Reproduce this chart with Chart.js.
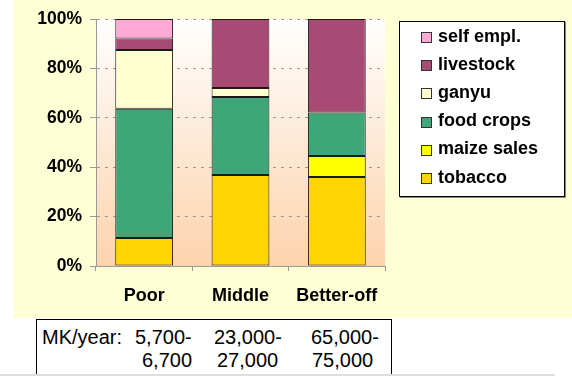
<!DOCTYPE html>
<html lang="en">
<head>
  <meta charset="UTF-8" />
  <title>Income sources by wealth group</title>
  <script src="https://cdn.jsdelivr.net/npm/chart.js"></script>
  <style>
    * { box-sizing: border-box; margin: 0; padding: 0; }
    body {
      width: 572px;
      height: 376px;
      background: #fff;
      position: relative;
      overflow: hidden;
      font-family: 'Liberation Sans', Arial, sans-serif;
    }
    .panel {
      position: absolute;
      left: 13px;
      top: 0;
      width: 559px;
      height: 318px;
      background: #FFFFD6;
    }
    #chart { position: absolute; left: 0; top: 0; }
    .legend {
      position: absolute;
      left: 386px;
      top: 21px;
      width: 166px;
      height: 176px;
      background: #fff;
      border: 1px solid #000;
      box-shadow: 1px 1px 0 #888;
    }
    .legend-item {
      position: absolute;
      left: 21px;
      height: 20px;
      display: flex;
      align-items: center;
      font-weight: bold;
      font-size: 18px;
      color: #000;
    }
    .legend-item span.box {
      width: 11px;
      height: 11px;
      border: 1px solid #333;
      margin-right: 6px;
      margin-top: 3px;
    }
    .income {
      position: absolute;
      left: 36px;
      top: 319px;
      width: 356px;
      height: 70px;
      border: 1.5px solid #000;
      background: #fff;
    }
    .income div {
      position: absolute;
      font-size: 20px;
      line-height: 23px;
      color: #000;
      white-space: nowrap;
    }
    .edge {
      position: absolute;
      left: 0;
      top: 374px;
      width: 555px;
      height: 2px;
      background: #dcdcdc;
    }
  </style>
</head>
<body>
  <div class="panel">
    <canvas id="chart" width="559" height="318"></canvas>
    <div id="legend" class="legend"></div>
  </div>
  <div id="income" class="income"></div>
  <div class="edge"></div>

  <script>
// Share of income by source (%)
const categories = ['Poor', 'Middle', 'Better-off'];
const tobacco    = [11.3, 36.8, 36.0];
const maizeSales = [0, 0, 8.5];
const foodCrops  = [52.4, 31.6, 17.6];
const ganyu      = [23.7, 3.7, 0];
const livestock  = [4.7, 27.9, 37.9];
const selfEmpl   = [7.9, 0, 0];

const yTicks = [0, 20, 40, 60, 80, 100];

// income range text under the chart
const incomeLabel = 'MK/year:';
const incomeLow  = ['5,700-', '23,000-', '65,000-'];
const incomeHigh = ['6,700', '27,000', '75,000'];

const series = [
  { label: 'tobacco',     data: tobacco,    color: '#FFD400' },
  { label: 'maize sales', data: maizeSales, color: '#FFFF00' },
  { label: 'food crops',  data: foodCrops,  color: '#3FA67A' },
  { label: 'ganyu',       data: ganyu,      color: '#FFFFD0' },
  { label: 'livestock',   data: livestock,  color: '#A84A74' },
  { label: 'self empl.',  data: selfEmpl,   color: '#FFAAD4' }
];

// gradient behind the plot area
const plotBackground = {
  id: 'plotBackground',
  beforeDraw(chart) {
    const { ctx, chartArea: a } = chart;
    const g = ctx.createLinearGradient(0, a.top, 0, a.bottom);
    g.addColorStop(0, '#FFFFFF');
    g.addColorStop(1, '#FDD3AC');
    ctx.save();
    ctx.fillStyle = g;
    ctx.fillRect(a.left, a.top, a.right - a.left, a.bottom - a.top);
    ctx.restore();
  }
};

const chart = new Chart(document.getElementById('chart'), {
  type: 'bar',
  data: {
    labels: categories,
    datasets: series.map(s => ({
      label: s.label,
      data: s.data,
      backgroundColor: s.color,
      borderColor: '#1a1a1a',
      borderWidth: 1,
      borderSkipped: false,
      barPercentage: 0.6,
      categoryPercentage: 1
    }))
  },
  options: {
    responsive: false,
    animation: false,
    layout: { padding: { top: 19, right: 187, left: 0, bottom: 0 } },
    plugins: {
      legend: { display: false },
      tooltip: { enabled: false }
    },
    scales: {
      x: {
        stacked: true,
        grid: {
          offset: true,
          drawOnChartArea: false,
          drawTicks: true,
          tickLength: 5,
          color: '#999'
        },
        border: { color: '#999' },
        ticks: {
          color: '#000',
          padding: 14,
          font: { family: "'Liberation Sans', Arial", size: 18, weight: 'bold' }
        },
        afterFit(scale) { scale.height = 52; }
      },
      y: {
        stacked: true,
        min: 0,
        max: 100,
        afterBuildTicks(scale) { scale.ticks = yTicks.map(v => ({ value: v })); },
        grid: {
          color: '#999',
          tickLength: 6,
          tickBorderDash: []
        },
        border: { color: '#999', dash: [3, 5] },
        ticks: {
          color: '#000',
          padding: 8,
          callback: v => v + '%',
          font: { family: "'Liberation Sans', Arial", size: 17.5, weight: 'bold' }
        },
        afterFit(scale) { scale.width = 83; }
      }
    }
  },
  plugins: [plotBackground]
});

// legend, top entry is the last stacked series
const legend = document.getElementById('legend');
series.slice().reverse().forEach((s, i) => {
  const item = document.createElement('div');
  item.className = 'legend-item';
  item.style.top = (4 + i * 28.2) + 'px';
  item.innerHTML = `<span class="box" style="background:${s.color}"></span>${s.label}`;
  legend.appendChild(item);
});

// income table
const income = document.getElementById('income');
const row1Left = [98, 177, 274];
const row2Left = [105, 180, 275];
let html = `<div style="left:5px;top:6px">${incomeLabel}</div>`;
incomeLow.forEach((t, i) => { html += `<div style="left:${row1Left[i]}px;top:6px">${t}</div>`; });
incomeHigh.forEach((t, i) => { html += `<div style="left:${row2Left[i]}px;top:29px">${t}</div>`; });
income.innerHTML = html;
  </script>
</body>
</html>
